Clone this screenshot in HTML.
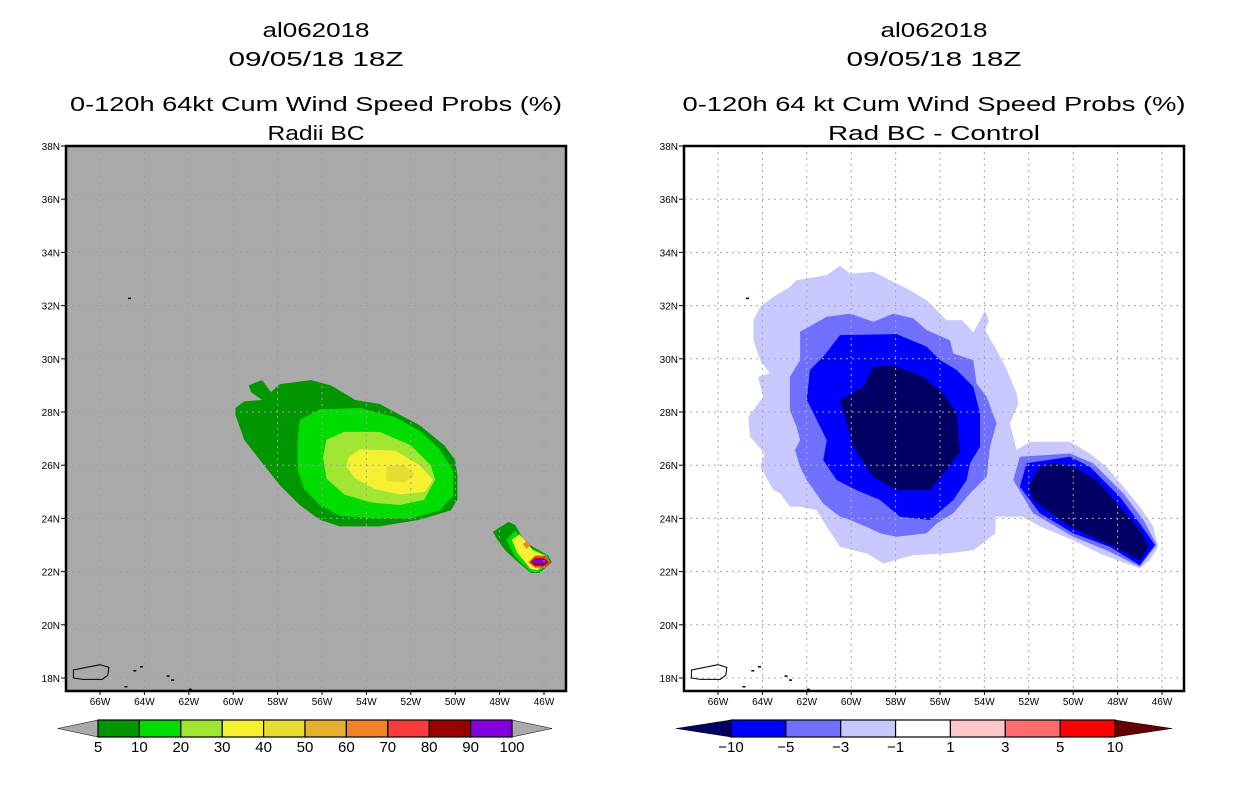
<!DOCTYPE html>
<html><head><meta charset="utf-8"><style>
html,body{margin:0;padding:0;background:#fff;width:1236px;height:800px;overflow:hidden}
svg text{font-family:"Liberation Sans",sans-serif}
</style></head><body>
<svg id="fig" width="1236" height="800" viewBox="0 0 1236 800" xmlns="http://www.w3.org/2000/svg">
<defs>
<clipPath id="clipL"><rect x="66" y="146" width="500" height="545"/></clipPath>
<clipPath id="clipR"><rect x="684" y="146" width="500" height="545"/></clipPath>
</defs>
<g id="left"></g>
<g id="right"></g>
</svg>
<script>
// ---- data (lon in degrees W, lat in degrees N) ----
const latTicks = [38,36,34,32,30,28,26,24,22,20,18];
const lonTicks = [66,64,62,60,58,56,54,52,50,48,46];
const probLevels = ['5','10','20','30','40','50','60','70','80','90','100'];
const probColors = ['#009600','#00dc00','#a0e632','#f5f032','#e6dc32','#e6af2d','#f08228','#fa3c3c','#960000','#8200dc'];
const diffLevels = ['−10','−5','−3','−1','1','3','5','10'];
const diffColors = ['#000064','#0000ff','#7070ff','#c8c8ff','#ffffff','#ffc8c8','#ff6e6e','#ff0000','#640000'];

const prob5 = [[59.3,29.0],[58.7,29.2],[58.3,28.75],[57.9,29.05],[56.5,29.2],[55.6,29.0],[54.5,28.45],[53.4,28.3],[52.5,27.9],[51.6,27.5],[50.5,26.75],[50.0,26.2],[49.9,25.6],[49.9,24.7],[50.2,24.3],[51.6,23.95],[53.4,23.7],[55.2,23.7],[56.1,23.95],[57.0,24.5],[57.9,25.25],[58.8,26.2],[59.5,26.95],[59.9,27.9],[59.9,28.15],[59.5,28.4],[58.7,28.45],[59.2,28.75]];
const prob10 = [[57.0,27.7],[56.1,28.1],[54.3,28.15],[52.7,27.8],[51.6,27.3],[50.7,26.6],[50.1,25.8],[50.1,24.85],[50.7,24.3],[52.0,24.0],[53.8,24.0],[55.2,24.1],[56.1,24.5],[56.8,25.1],[57.1,25.8],[57.1,26.95]];
const prob20 = [[55.8,26.95],[55.0,27.25],[53.4,27.25],[52.0,26.75],[51.1,26.0],[50.9,25.45],[51.4,24.7],[52.5,24.5],[53.8,24.6],[55.0,24.9],[55.8,25.5],[55.95,26.3]];
const prob30 = [[54.8,26.3],[54.3,26.6],[52.7,26.55],[51.6,26.0],[51.0,25.45],[51.35,25.0],[52.5,24.9],[53.6,25.1],[54.5,25.5],[54.9,25.95]];
const prob40 = [[53.1,25.95],[52.3,26.0],[51.8,25.65],[52.3,25.35],[53.1,25.4]];
const small5 = [[48.3,23.5],[47.6,23.87],[47.3,23.75],[46.85,23.1],[45.8,22.6],[45.65,22.35],[46.2,21.95],[46.6,21.95],[47.3,22.45],[47.75,22.8],[48.1,23.2]];
const small10 = [[47.7,23.2],[47.3,23.55],[46.6,22.9],[45.85,22.6],[45.7,22.35],[46.25,21.98],[46.6,22.0],[47.3,22.55]];
const small30 = [[47.45,23.2],[47.1,23.4],[46.5,22.8],[45.95,22.6],[45.8,22.35],[46.3,22.05],[46.6,22.1],[47.2,22.7]];
const small60 = [[46.95,23.05],[46.75,23.15],[46.6,23.0],[46.8,22.85]];
const small70 = [[46.7,22.35],[46.4,22.6],[45.95,22.6],[45.7,22.35],[45.95,22.15],[46.4,22.15]];
const small80 = [[46.6,22.35],[46.4,22.5],[46.0,22.5],[45.8,22.35],[46.0,22.22],[46.4,22.22]];
const small90 = [[46.5,22.38],[46.45,22.45],[45.95,22.45],[45.9,22.38],[45.95,22.3],[46.45,22.3]];

const diff1 = [[60.5,33.5],[60.05,33.2],[59.0,33.27],[58.25,32.96],[57.35,32.58],[56.6,32.2],[55.7,31.45],[55.0,31.45],[54.5,31.0],[54.2,31.45],[53.97,31.83],[53.8,31.4],[53.97,31.08],[53.45,30.33],[53.0,29.6],[52.55,28.7],[52.47,28.3],[52.85,27.57],[52.55,26.57],[51.95,26.88],[50.15,26.88],[49.25,26.44],[48.5,25.94],[47.74,25.19],[47.0,24.44],[46.4,23.7],[46.17,22.93],[46.55,22.43],[47.0,22.12],[47.6,22.3],[48.8,22.68],[50.0,23.18],[51.5,23.7],[52.25,24.06],[53.5,24.06],[53.5,23.44],[54.5,22.8],[55.7,22.68],[57.2,22.62],[58.55,22.3],[59.3,22.68],[60.5,22.93],[61.1,23.68],[61.55,24.31],[62.3,24.44],[62.76,24.44],[63.2,24.94],[63.5,25.06],[64.1,25.94],[63.9,26.44],[64.56,27.07],[64.64,27.82],[63.96,28.57],[64.2,29.32],[63.66,29.45],[64.1,29.95],[64.4,30.7],[64.4,31.45],[64.1,31.95],[63.5,32.33],[62.76,32.7],[62.46,32.96],[61.56,33.08],[61.1,33.15]];
const diff3a = [[62.3,31.02],[61.1,31.58],[60.05,31.7],[59.0,31.39],[58.1,31.7],[57.2,31.52],[56.6,31.08],[55.55,30.7],[55.4,30.2],[54.5,29.95],[54.35,29.07],[53.9,28.57],[53.45,27.57],[53.75,26.69],[53.9,25.56],[54.65,24.94],[55.4,24.19],[56.15,23.81],[56.6,23.44],[57.95,23.31],[58.7,23.44],[59.3,23.68],[60.05,23.94],[60.5,24.06],[61.26,24.56],[62.0,25.44],[62.3,25.94],[62.53,26.57],[62.3,26.94],[62.46,27.44],[62.76,28.07],[62.76,29.32],[62.3,29.95]];
const diff5a = [[60.5,30.89],[57.95,30.93],[56.6,30.45],[56.0,29.95],[55.25,29.58],[54.5,28.95],[54.2,27.95],[54.2,26.69],[54.65,26.07],[54.8,25.44],[55.4,24.69],[56.45,23.94],[57.8,24.06],[58.7,24.69],[59.75,25.06],[60.65,25.44],[61.26,26.19],[61.1,26.94],[61.7,27.95],[62.0,28.45],[61.86,29.58],[61.26,30.08]];
const diff10a = [[59.0,29.7],[58.1,29.76],[56.75,29.32],[55.85,28.7],[55.25,27.95],[55.1,26.5],[55.7,25.82],[56.45,25.06],[57.95,25.06],[59.0,25.56],[59.9,26.69],[60.5,28.45],[59.45,28.95]];
const diff3b = [[52.4,26.32],[50.15,26.44],[49.1,26.07],[47.74,24.94],[46.84,23.94],[46.24,23.0],[47.0,22.18],[48.5,22.8],[50.0,23.31],[51.8,24.19],[52.7,25.44]];
const diff5b = [[52.1,26.07],[50.15,26.32],[49.25,25.94],[47.9,24.81],[47.0,23.81],[46.32,23.0],[47.0,22.24],[48.35,22.93],[50.0,23.44],[51.5,24.19],[52.4,25.19]];
const diff10b = [[51.5,25.94],[50.9,26.07],[50.0,25.94],[48.95,25.44],[47.9,24.44],[47.0,23.56],[46.6,22.93],[47.0,22.43],[48.5,23.06],[50.15,23.69],[51.8,24.69],[52.0,25.19]];
const puertoRico = [[67.2,18.3],[66.0,18.5],[65.6,18.4],[65.65,18.1],[65.9,17.95],[66.8,17.95],[67.2,18.0]];

// ---- helpers ----
const NS='http://www.w3.org/2000/svg';
function mk(tag, attrs, parent, txt){const e=document.createElementNS(NS,tag);for(const k in attrs)e.setAttribute(k,attrs[k]);if(txt!==undefined)e.textContent=txt;parent.appendChild(e);return e;}
function axes(x0){return {x:lon=>x0+34+(66-lon)*22.2, y:lat=>146+(38-lat)*26.6};}
function poly(ax, pts, fill, parent, name){
  const p=mk('polygon',{points:pts.map(q=>ax.x(q[0]).toFixed(1)+','+ax.y(q[1]).toFixed(1)).join(' '),fill:fill},parent);
  
  
  return p;
}

function panel(gid, x0, bg, titles, clip){
  const g=document.getElementById(gid), ax=axes(x0), cx=x0+250;
  titles.forEach((t,i)=>{
    const tx=mk('text',{x:cx,y:[37,66,111,140][i],'text-anchor':'middle','font-size':20,textLength:t[1],lengthAdjust:'spacingAndGlyphs',fill:'#000'},g,t[0]);
    
    
  });
  const bgr=mk('rect',{x:x0,y:146,width:500,height:545,fill:bg},g);
  
  
  const cg=mk('g',{'clip-path':'url(#'+clip+')'},g);
  
  
  return {g, ax, cg};
}
function decorate(P, x0, gridColor){
  const {g,ax}=P;
  const gg=mk('g',{stroke:gridColor,'stroke-width':1,'stroke-dasharray':'2,4'},g);
  
  
  lonTicks.forEach(l=>{const ln=mk('line',{x1:ax.x(l),x2:ax.x(l),y1:146,y2:691},gg);});
  latTicks.forEach(l=>{const ln=mk('line',{x1:x0,x2:x0+500,y1:ax.y(l),y2:ax.y(l)},gg);});
  const pr=mk('polygon',{points:puertoRico.map(q=>ax.x(q[0])+','+ax.y(q[1])).join(' '),fill:'none',stroke:'#000','stroke-width':1},g);
  
  
  [[64.5,18.3],[64.2,18.45],[63.0,18.1],[62.8,17.95],[62.0,17.6],[64.9,17.7],[64.74,32.3]].forEach(q=>{
    const d=mk('rect',{x:ax.x(q[0]),y:ax.y(q[1]),width:3,height:1.5,fill:'#000'},g);
    
    
  });
  const b=mk('rect',{x:x0,y:146,width:500,height:545,fill:'none',stroke:'#000','stroke-width':2.5},g);
  
  
  latTicks.forEach(l=>{
    mk('line',{x1:x0-5,x2:x0,y1:ax.y(l),y2:ax.y(l),stroke:'#000'},g);
    const t=mk('text',{x:x0-6,y:ax.y(l)+4,'text-anchor':'end','font-size':10,fill:'#000'},g,l+'N');
    
    
  });
  lonTicks.forEach(l=>{
    mk('line',{x1:ax.x(l),x2:ax.x(l),y1:691,y2:695,stroke:'#000'},g);
    const t=mk('text',{x:ax.x(l),y:705,'text-anchor':'middle','font-size':10,fill:'#000'},g,l+'W');
    
    
  });
}
function colorbar(g, colors, labels, x1, x2, tipL, tipR, loTri, hiTri, offset){
  const cb=mk('g',{},g);
  
  
  const n=labels.length-1, w=(x2-x1)/n, y1=720, y2=737, ym=728.5;
  const tl=mk('polygon',{points:`${tipL},${ym} ${x1},${y1} ${x1},${y2}`,fill:loTri,stroke:'#000','stroke-width':0.5},cb);
  
  const tr=mk('polygon',{points:`${tipR},${ym} ${x2},${y1} ${x2},${y2}`,fill:hiTri,stroke:'#000','stroke-width':0.5},cb);
  
  for(let i=0;i<n;i++){
    const r=mk('rect',{x:x1+i*w,y:y1,width:w,height:y2-y1,fill:colors[i+offset],stroke:'#000','stroke-width':1.2},cb);
    
    
  }
  labels.forEach((l,i)=>{
    const t=mk('text',{x:x1+i*w,y:752,'text-anchor':'middle','font-size':15,fill:'#000'},cb,l);
    
    
  });
}

// left panel
const L=panel('left',66,'#aaaaaa',[['al062018',107],['09/05/18 18Z',175],['0-120h 64kt Cum Wind Speed Probs (%)',492],['Radii BC',97]],'clipL');
poly(L.ax,prob5,probColors[0],L.cg,'prob-5-contour');
poly(L.ax,prob10,probColors[1],L.cg,'prob-10-contour');
poly(L.ax,prob20,probColors[2],L.cg,'prob-20-contour');
poly(L.ax,prob30,probColors[3],L.cg,'prob-30-contour');
poly(L.ax,prob40,probColors[4],L.cg,'prob-40-contour');
poly(L.ax,small5,probColors[0],L.cg,'small-prob-5');
poly(L.ax,small10,probColors[1],L.cg,'small-prob-10');
poly(L.ax,small30,probColors[3],L.cg,'small-prob-30');
poly(L.ax,small60,probColors[6],L.cg,'small-prob-60');
poly(L.ax,small70,probColors[7],L.cg,'small-prob-70');
poly(L.ax,small80,probColors[8],L.cg,'small-prob-80');
poly(L.ax,small90,probColors[9],L.cg,'small-prob-90');
decorate(L,66,'#a0a0a0');
colorbar(L.g, probColors, probLevels, 98, 512, 58, 552, '#aaaaaa', '#aaaaaa', 0);

// right panel
const R=panel('right',684,'#ffffff',[['al062018',107],['09/05/18 18Z',175],['0-120h 64 kt Cum Wind Speed Probs (%)',503],['Rad BC - Control',212]],'clipR');
poly(R.ax,diff1,diffColors[3],R.cg,'diff-minus1-contour');
poly(R.ax,diff3a,diffColors[2],R.cg,'diff-minus3-contour-main');
poly(R.ax,diff5a,diffColors[1],R.cg,'diff-minus5-contour-main');
poly(R.ax,diff10a,diffColors[0],R.cg,'diff-minus10-contour-main');
poly(R.ax,diff3b,diffColors[2],R.cg,'diff-minus3-contour-east');
poly(R.ax,diff5b,diffColors[1],R.cg,'diff-minus5-contour-east');
poly(R.ax,diff10b,diffColors[0],R.cg,'diff-minus10-contour-east');
decorate(R,684,'#a8a8a8');
colorbar(R.g, diffColors, diffLevels, 731, 1115, 676, 1172, '#000064', '#640000', 1);
</script>
</body></html>
